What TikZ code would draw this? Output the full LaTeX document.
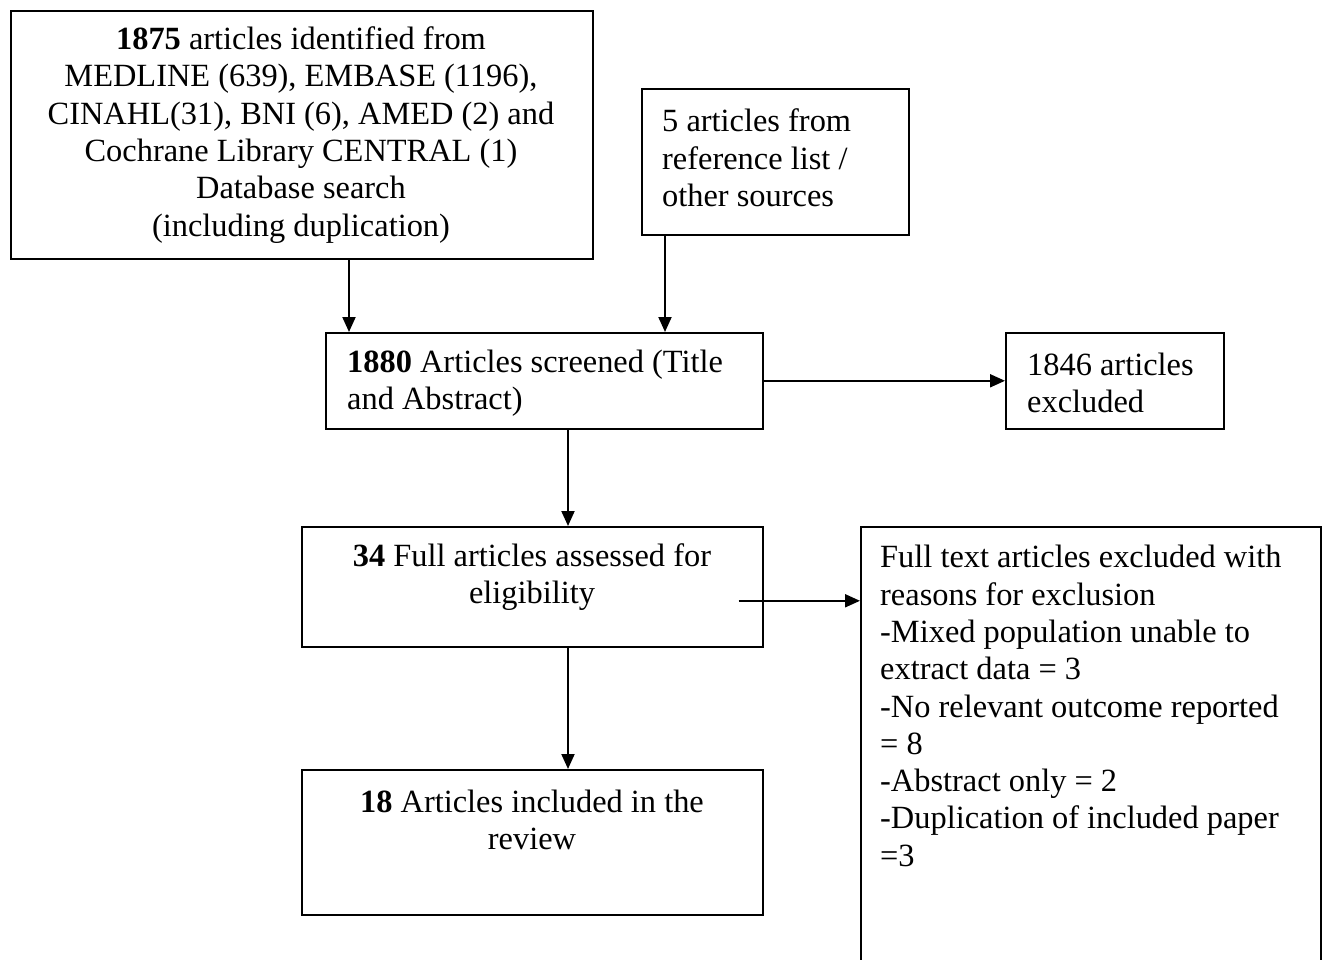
\documentclass[tikz,border=0pt]{standalone}
\usepackage{fontspec}
\setmainfont{Liberation Serif}
\usetikzlibrary{arrows.meta}
\begin{document}
\begin{tikzpicture}[x=1pt,y=-1pt,
 box/.style={draw, line width=1.6pt, inner sep=0pt, anchor=north west},
 txt/.style={inner sep=0pt, font=\fontsize{32.4}{37.3}\selectfont},
 arr/.style={line width=2pt, -{Triangle[length=15pt,width=13pt]}}]
\useasboundingbox (0,0) rectangle (1326,960);
\clip (0,0) rectangle (1326,960);
\node[box, minimum width=582pt, minimum height=248pt] (a) at (10,10) {};
\node[box, minimum width=267pt, minimum height=146pt] (b) at (641,88) {};
\node[box, minimum width=437pt, minimum height=96pt] (c) at (325,332) {};
\node[box, minimum width=218pt, minimum height=96pt] (d) at (1005,332) {};
\node[box, minimum width=461pt, minimum height=120pt] (e) at (301,526) {};
\node[box, minimum width=460pt, minimum height=460pt] (f) at (860,526) {};
\node[box, minimum width=461pt, minimum height=145pt] (g) at (301,769) {};
\node[txt, align=center] (ta) at (301,135) {\textbf{1875} articles identified from\\MEDLINE (639), EMBASE (1196),\\CINAHL(31), BNI (6), AMED (2) and\\Cochrane Library CENTRAL (1)\\Database search\\(including duplication)};
\node[txt, align=left, anchor=west] (tb) at (662,158) {5 articles from\\reference list /\\other sources};
\node[txt, align=left, anchor=west] (tc) at (347,383) {\textbf{1880} Articles screened (Title\\and Abstract)};
\node[txt, align=left, anchor=west] (td) at (1027,383) {1846 articles\\excluded};
\node[txt, align=center] (te) at (532,577) {\textbf{34} Full articles assessed for\\eligibility};
\node[txt, align=left, anchor=west] (tf) at (880,706) {Full text articles excluded with\\reasons for exclusion\\-Mixed population unable to\\extract data = 3\\-No relevant outcome reported\\= 8\\-Abstract only = 2\\-Duplication of included paper\\=3};
\node[txt, align=center] (tg) at (532,820) {\textbf{18} Articles included in the\\review};
\draw[arr] ([xshift=339pt]a.south west) -- ([xshift=24pt]c.north west);
\draw[arr] ([xshift=24pt]b.south west) -- ([xshift=340pt]c.north west);
\draw[arr] (c.east) -- (d.west);
\draw[arr] ([xshift=243pt]c.south west) -- ([xshift=267pt]e.north west);
\coordinate (es) at ([xshift=-25pt,yshift=-14pt]e.east);
\draw[arr] (es) -- (es -| f.west);
\draw[arr] ([xshift=267pt]e.south west) -- ([xshift=267pt]g.north west);
\end{tikzpicture}
\end{document}
